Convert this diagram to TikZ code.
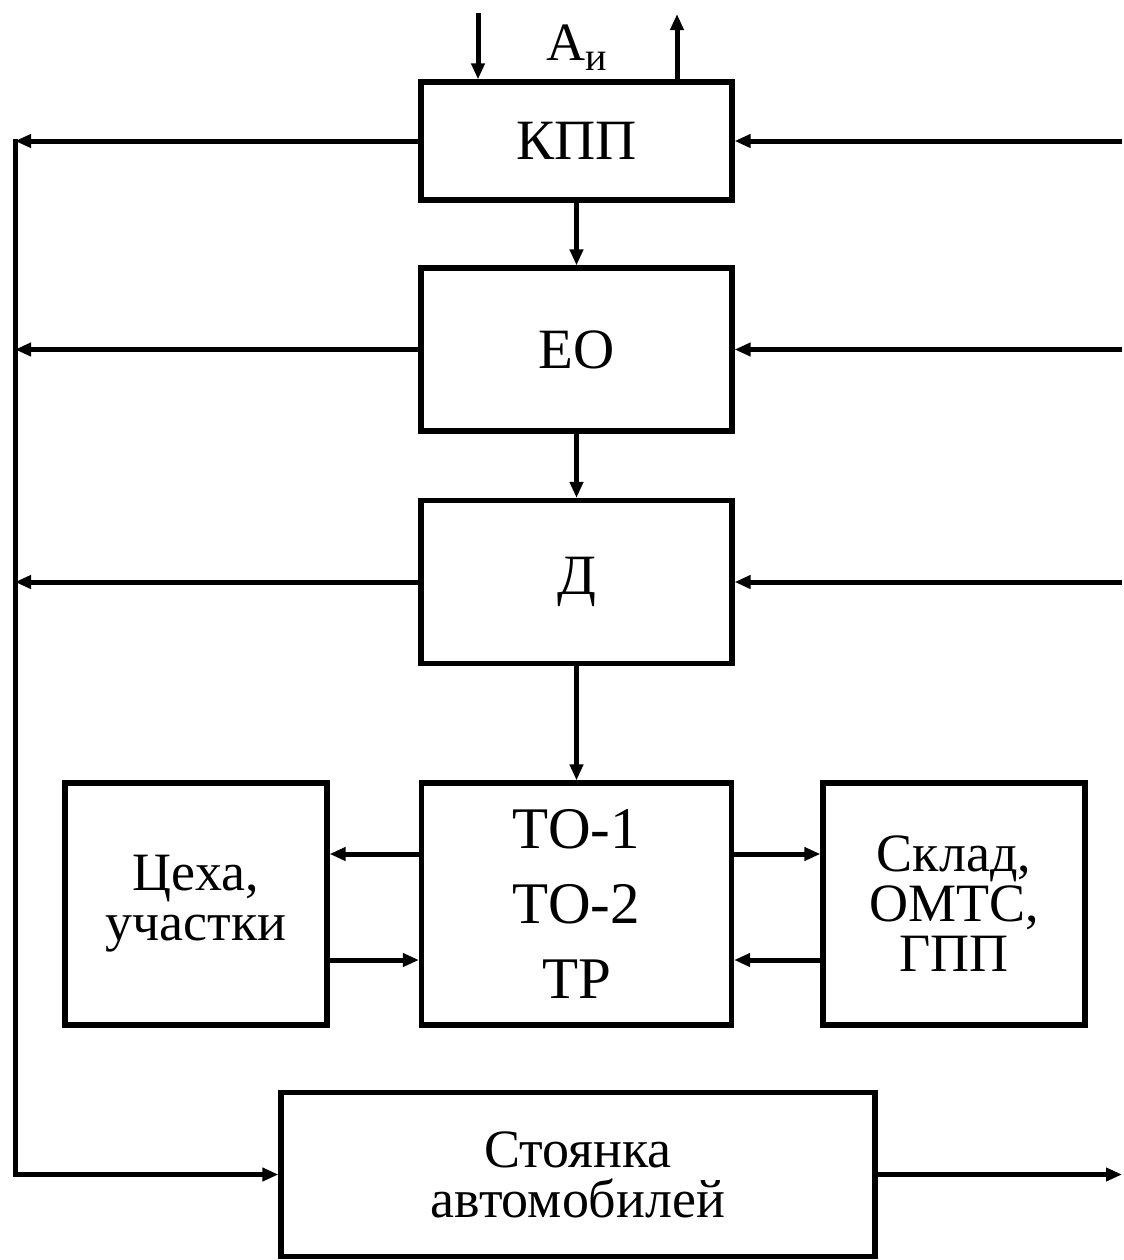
\documentclass[tikz,border=0pt]{standalone}
\usepackage{fontspec}
\setmainfont{Liberation Serif}
\usetikzlibrary{arrows.meta}
\begin{document}
\begin{tikzpicture}[x=0.5pt,y=-0.5pt,
  box/.style={draw, line width=2.6pt, align=center, inner sep=0pt, fill=white,
    font=\fontsize{27}{25}\selectfont},
  conn/.style={line width=2.5pt, -{Triangle[length=8pt,width=6.5pt]}},
  wire/.style={line width=2.5pt, line cap=rect}]
\useasboundingbox (0,0) rectangle (1124,1260);

% blocks
\node[box, minimum width=155.5pt, minimum height=59pt, font=\fontsize{28.5}{30}\selectfont] (kpp) at (576.5,141) {КПП};
\node[box, minimum width=155.5pt, minimum height=81.5pt, font=\fontsize{28.5}{30}\selectfont] (eo) at (576.5,349.5) {ЕО};
\node[box, minimum width=155.5pt, minimum height=81.5pt, font=\fontsize{28.5}{30}\selectfont] (d) at (576.5,582) {Д};
\node[box, minimum width=155pt, minimum height=121pt, font=\fontsize{29.5}{37.5}\selectfont] (to) at (576.5,904) {ТО-1\\ТО-2\\ТР};
\node[box, minimum width=131pt, minimum height=121pt] (ceh) at (196,904) {Цеха,\\участки};
\node[box, minimum width=131pt, minimum height=121pt] (skl) at (954,904) {Склад,\\ОМТС,\\ГПП};
\node[box, minimum width=297pt, minimum height=82pt] (park) at (578,1174.5) {Стоянка\\автомобилей};

% label
\node[anchor=base, inner sep=0pt, font=\fontsize{27}{27}\selectfont] (alabel) at (577,60) {А\raisebox{-5pt}{\fontsize{20}{20}\selectfont и}};

% helper coordinates
\coordinate (lft) at (15,141);
\coordinate (rgt) at (1122,141);
\coordinate (ain) at (478,13);
\coordinate (aout) at (677,14);
\coordinate (ya) at (0,854);
\coordinate (yb) at (0,960);

% top input/output
\draw[conn] (ain) -- (ain |- kpp.north);
\draw[conn] (aout |- kpp.north) -- (aout);

% main chain
\draw[conn] (kpp.south) -- (kpp.south |- eo.north);
\draw[conn] (eo.south) -- (eo.south |- d.north);
\draw[conn] (d.south) -- (d.south |- to.north);

% left side
\draw[conn] (kpp.west) -- (kpp.west -| lft);
\draw[conn] (eo.west) -- (eo.west -| lft);
\draw[conn] (d.west) -- (d.west -| lft);
\draw[wire] (kpp.west -| lft) -- (park.west -| lft);
\draw[conn] (park.west -| lft) -- (park.west);

% right side
\draw[conn] (kpp.east -| rgt) -- (kpp.east);
\draw[conn] (eo.east -| rgt) -- (eo.east);
\draw[conn] (d.east -| rgt) -- (d.east);
\draw[conn] (park.east) -- (park.east -| rgt);

% workshops and store
\draw[conn] (to.west |- ya) -- (ceh.east |- ya);
\draw[conn] (ceh.east |- yb) -- (to.west |- yb);
\draw[conn] (to.east |- ya) -- (skl.west |- ya);
\draw[conn] (skl.west |- yb) -- (to.east |- yb);
\end{tikzpicture}
\end{document}
